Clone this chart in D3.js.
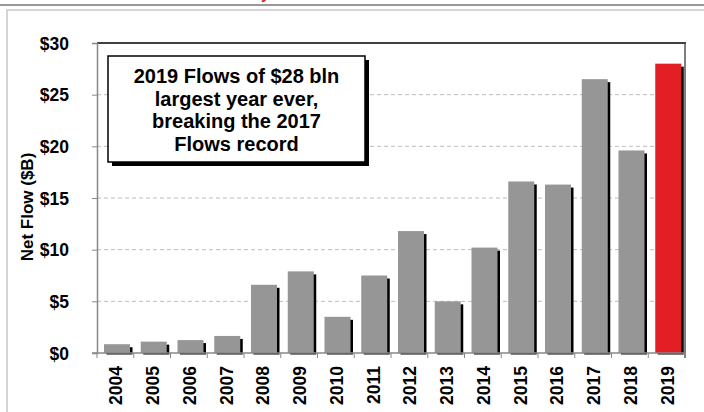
<!DOCTYPE html>
<html><head><meta charset="utf-8">
<script src="https://cdn.jsdelivr.net/npm/d3@7"></script>
<style>body{margin:0;background:#fff}svg{display:block}text{font-family:"Liberation Sans",Arial,sans-serif;font-weight:bold}.nar{font-family:"Liberation Sans Narrow","Arial Narrow","Liberation Sans",sans-serif}</style>
</head><body>
<script>
const years = ["2004","2005","2006","2007","2008","2009","2010","2011","2012","2013","2014","2015","2016","2017","2018","2019"];
const flows = [0.85,1.1,1.25,1.65,6.6,7.9,3.5,7.5,11.8,5.0,10.2,16.6,16.3,26.5,19.6,28.0];
const highlight = ["2019"];
const yTicks = [0,5,10,15,20,25,30];
const noteLines = ["2019 Flows of $28 bln","largest year ever,","breaking the 2017","Flows record"];

const W=704,H=412;
const svg=d3.select("body").append("svg").attr("width",W).attr("height",H);
const m={l:97,r:685,t:43,b:353};
const x=d3.scaleBand().domain(years).range([m.l,m.r]).paddingInner(0).paddingOuter(0);
const y=d3.scaleLinear().domain([0,30]).range([m.b,m.t]);

// top rule and clipped title fragment
svg.append("text").attr("x",261).attr("y",-1).attr("fill","#e31e24").style("font-size","16px").text("y");
svg.append("line").attr("x1",0).attr("x2",W).attr("y1",5).attr("y2",5).attr("stroke","#777").attr("stroke-width",1.5);
svg.append("rect").attr("x",7).attr("y",10).attr("width",W).attr("height",H).attr("fill","none").attr("stroke","#c8c8c8").attr("stroke-width",1.5);

// gridlines
svg.append("g").selectAll("line").data(yTicks.filter(d=>d>0&&d<30)).join("line")
 .attr("x1",m.l).attr("x2",m.r).attr("y1",d=>y(d)).attr("y2",d=>y(d))
 .attr("stroke","#bdbdbd").attr("stroke-dasharray","4,3");

// bars with shadow
const bw=26, off=7;
const g=svg.append("g");
g.selectAll("rect.sh").data(years).join("rect").attr("class","sh")
 .attr("x",d=>x(d)+off+2.5).attr("y",(d,i)=>y(flows[i])+3)
 .attr("width",bw).attr("height",(d,i)=>y(0)-y(flows[i])-1.5).attr("fill","#000");
g.selectAll("rect.bar").data(years).join("rect").attr("class","bar")
 .attr("x",d=>x(d)+off).attr("y",(d,i)=>y(flows[i]))
 .attr("width",bw).attr("height",(d,i)=>y(0)-y(flows[i]))
 .attr("fill",d=>highlight.includes(d)?"#e31e24":"#969696");

// frame top/right
svg.append("line").attr("x1",m.l).attr("x2",m.r+1).attr("y1",m.t).attr("y2",m.t).attr("stroke","#000").attr("stroke-width",1.5);
svg.append("line").attr("x1",m.r).attr("x2",m.r).attr("y1",m.t).attr("y2",m.b+5).attr("stroke","#555").attr("stroke-width",1.5);

// y axis
const ya=svg.append("g").attr("transform",`translate(${m.l},0)`)
 .call(d3.axisLeft(y).tickValues(yTicks).tickSize(5).tickPadding(23).tickFormat(d=>"$"+d));
ya.attr("font-family",null).attr("font-size",null);
ya.select(".domain").attr("stroke","#888").attr("stroke-width",1.5);
ya.selectAll(".tick line").attr("stroke","#888");
ya.selectAll("text").attr("class","nar").style("font-size","17.5px").attr("fill","#000").attr("dy","0.36em");

// x axis
svg.append("line").attr("x1",m.l-5).attr("x2",m.r).attr("y1",m.b).attr("y2",m.b).attr("stroke","#888").attr("stroke-width",1.5);
svg.append("g").selectAll("line").data(years.concat(["end"])).join("line")
 .attr("x1",(d,i)=>m.l+i*x.bandwidth()).attr("x2",(d,i)=>m.l+i*x.bandwidth())
 .attr("y1",m.b).attr("y2",m.b+5).attr("stroke","#888");
svg.append("g").selectAll("text").data(years).join("text").attr("class","nar")
 .attr("transform",d=>`translate(${x(d)+x.bandwidth()/2+7},${m.b+13}) rotate(-90)`)
 .attr("text-anchor","end").style("font-size","17.5px").text(d=>d);

// y title
svg.append("text").attr("transform","translate(33,207) rotate(-90)").attr("text-anchor","middle")
 .style("font-size","17px").text("Net Flow ($B)");

// note box
svg.append("rect").attr("x",112).attr("y",60).attr("width",257).attr("height",106).attr("fill","#000");
svg.append("rect").attr("x",108).attr("y",56).attr("width",257).attr("height",106).attr("fill","#fff").attr("stroke","#000").attr("stroke-width",1.5);
svg.append("g").selectAll("text").data(noteLines).join("text")
 .attr("x",236.5).attr("y",(d,i)=>83+i*22.7).attr("text-anchor","middle")
 .style("font-size","20px").text(d=>d);
</script>
</body></html>
